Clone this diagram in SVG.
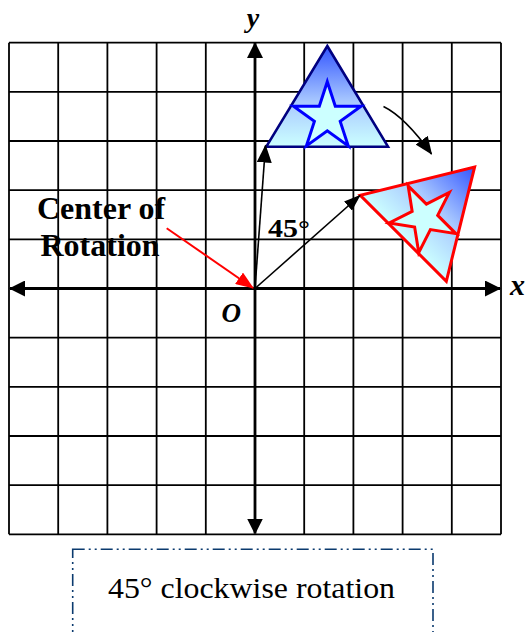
<svg xmlns="http://www.w3.org/2000/svg" width="526" height="632" viewBox="0 0 526 632">
<style>
.grid line{stroke:#000;stroke-width:1.8}
.axis{stroke:#000;stroke-width:2.8;fill:none}
.thin{stroke:#000;stroke-width:1.6;fill:none}
</style>
<defs>
<linearGradient id="gb" x1="0" y1="0" x2="0" y2="1">
<stop offset="0" stop-color="#3355ff"/>
<stop offset="0.55" stop-color="#a8c8ff"/>
<stop offset="1" stop-color="#ccffff"/>
</linearGradient>
<marker id="axh" markerUnits="userSpaceOnUse" markerWidth="16" markerHeight="16" refX="15" refY="8" orient="auto-start-reverse" viewBox="0 0 16 16">
<path d="M0,0 L16,8 L0,16 z" fill="#000"/>
</marker>
<marker id="ah" markerUnits="userSpaceOnUse" markerWidth="18" markerHeight="15" refX="17" refY="7.5" orient="auto" viewBox="0 0 18 15">
<path d="M0,0 L18,7.5 L0,15 z" fill="#000"/>
</marker>
<marker id="ahs" markerUnits="userSpaceOnUse" markerWidth="17" markerHeight="12" refX="16" refY="6" orient="auto" viewBox="0 0 17 12">
<path d="M0,0 L17,6 L0,12 z" fill="#000"/>
</marker>
<marker id="ahr" markerUnits="userSpaceOnUse" markerWidth="18" markerHeight="14" refX="17" refY="7" orient="auto" viewBox="0 0 18 14">
<path d="M0,0 L18,7 L0,14 z" fill="#ff0000"/>
</marker>
</defs>

<g id="grid" class="grid">
<line x1="9" y1="42.7" x2="9" y2="534.3"/>
<line x1="58.2" y1="42.7" x2="58.2" y2="534.3"/>
<line x1="107.4" y1="42.7" x2="107.4" y2="534.3"/>
<line x1="156.6" y1="42.7" x2="156.6" y2="534.3"/>
<line x1="205.8" y1="42.7" x2="205.8" y2="534.3"/>
<line x1="304.2" y1="42.7" x2="304.2" y2="534.3"/>
<line x1="353.4" y1="42.7" x2="353.4" y2="534.3"/>
<line x1="402.6" y1="42.7" x2="402.6" y2="534.3"/>
<line x1="451.8" y1="42.7" x2="451.8" y2="534.3"/>
<line x1="501" y1="42.7" x2="501" y2="534.3"/>
<line x1="9" y1="42.7" x2="501" y2="42.7"/>
<line x1="9" y1="91.9" x2="501" y2="91.9"/>
<line x1="9" y1="141" x2="501" y2="141"/>
<line x1="9" y1="190.2" x2="501" y2="190.2"/>
<line x1="9" y1="239.3" x2="501" y2="239.3"/>
<line x1="9" y1="337.7" x2="501" y2="337.7"/>
<line x1="9" y1="386.8" x2="501" y2="386.8"/>
<line x1="9" y1="436" x2="501" y2="436"/>
<line x1="9" y1="485.1" x2="501" y2="485.1"/>
<line x1="9" y1="534.3" x2="501" y2="534.3"/>
</g>

<g id="original">
<polygon points="327.3,46 388,146.7 266.3,146.7" fill="url(#gb)" stroke="#000080" stroke-width="2.6"/>
<polygon points="327.3,81.7 335.3,106.2 361.1,106.2 340.2,121.4 348.2,145.9 327.3,130.8 306.4,145.9 314.4,121.4 293.5,106.2 319.3,106.2" fill="#ccffff" stroke="#0000ff" stroke-width="3"/>
</g>

<g id="rotated" transform="translate(-3,-1) rotate(45 255 288.5)">
<polygon points="327.3,46 388,146.7 266.3,146.7" fill="url(#gb)" stroke="#ff0000" stroke-width="3"/>
<polygon points="327.3,81.7 335.3,106.2 361.1,106.2 340.2,121.4 348.2,145.9 327.3,130.8 306.4,145.9 314.4,121.4 293.5,106.2 319.3,106.2" fill="#ccffff" stroke="#ff0000" stroke-width="3"/>
</g>

<g id="connectors">
<line class="axis" x1="10" y1="288.5" x2="500" y2="288.5" marker-start="url(#axh)" marker-end="url(#axh)"/>
<line class="axis" x1="255" y1="533.5" x2="255" y2="43" marker-start="url(#axh)" marker-end="url(#axh)"/>
<line class="thin" x1="255" y1="288.5" x2="265.5" y2="145.5" marker-end="url(#ah)"/>
<line class="thin" x1="255" y1="288.5" x2="360" y2="195.5" marker-end="url(#ahs)"/>
<path class="thin" d="M383.5,106.5 Q405,117 431.5,154" stroke-width="2" marker-end="url(#ah)"/>
<line x1="166.7" y1="228.3" x2="253" y2="288" stroke="#ff0000" stroke-width="2" marker-end="url(#ahr)"/>
</g>

<g id="labels" font-family="'Liberation Serif', 'Times New Roman', 'DejaVu Serif', serif" fill="#000">
<text x="253" y="27" font-size="28" font-style="italic" font-weight="bold" text-anchor="middle">y</text>
<text x="510" y="295" font-size="30" font-style="italic" font-weight="bold">x</text>
<text x="221.5" y="321.5" font-size="27" font-style="italic" font-weight="bold">O</text>
<text x="37" y="219" font-size="32" font-weight="bold">Center of</text>
<text x="40.5" y="255.5" font-size="32" font-weight="bold">Rotation</text>
<text x="268" y="237" font-size="26" font-weight="bold" textLength="42" lengthAdjust="spacingAndGlyphs">45<tspan font-weight="normal">°</tspan></text>
</g>

<g id="caption">
<rect x="72.7" y="549.3" width="360.3" height="120" fill="none" stroke="#0b3a6e" stroke-width="1.6" stroke-dasharray="12 4 2 4 2 4"/>
<text x="108" y="598.3" font-family="'Liberation Serif', 'Times New Roman', 'DejaVu Serif', serif" font-size="29" textLength="287" lengthAdjust="spacingAndGlyphs">45° clockwise rotation</text>
</g>
</svg>
